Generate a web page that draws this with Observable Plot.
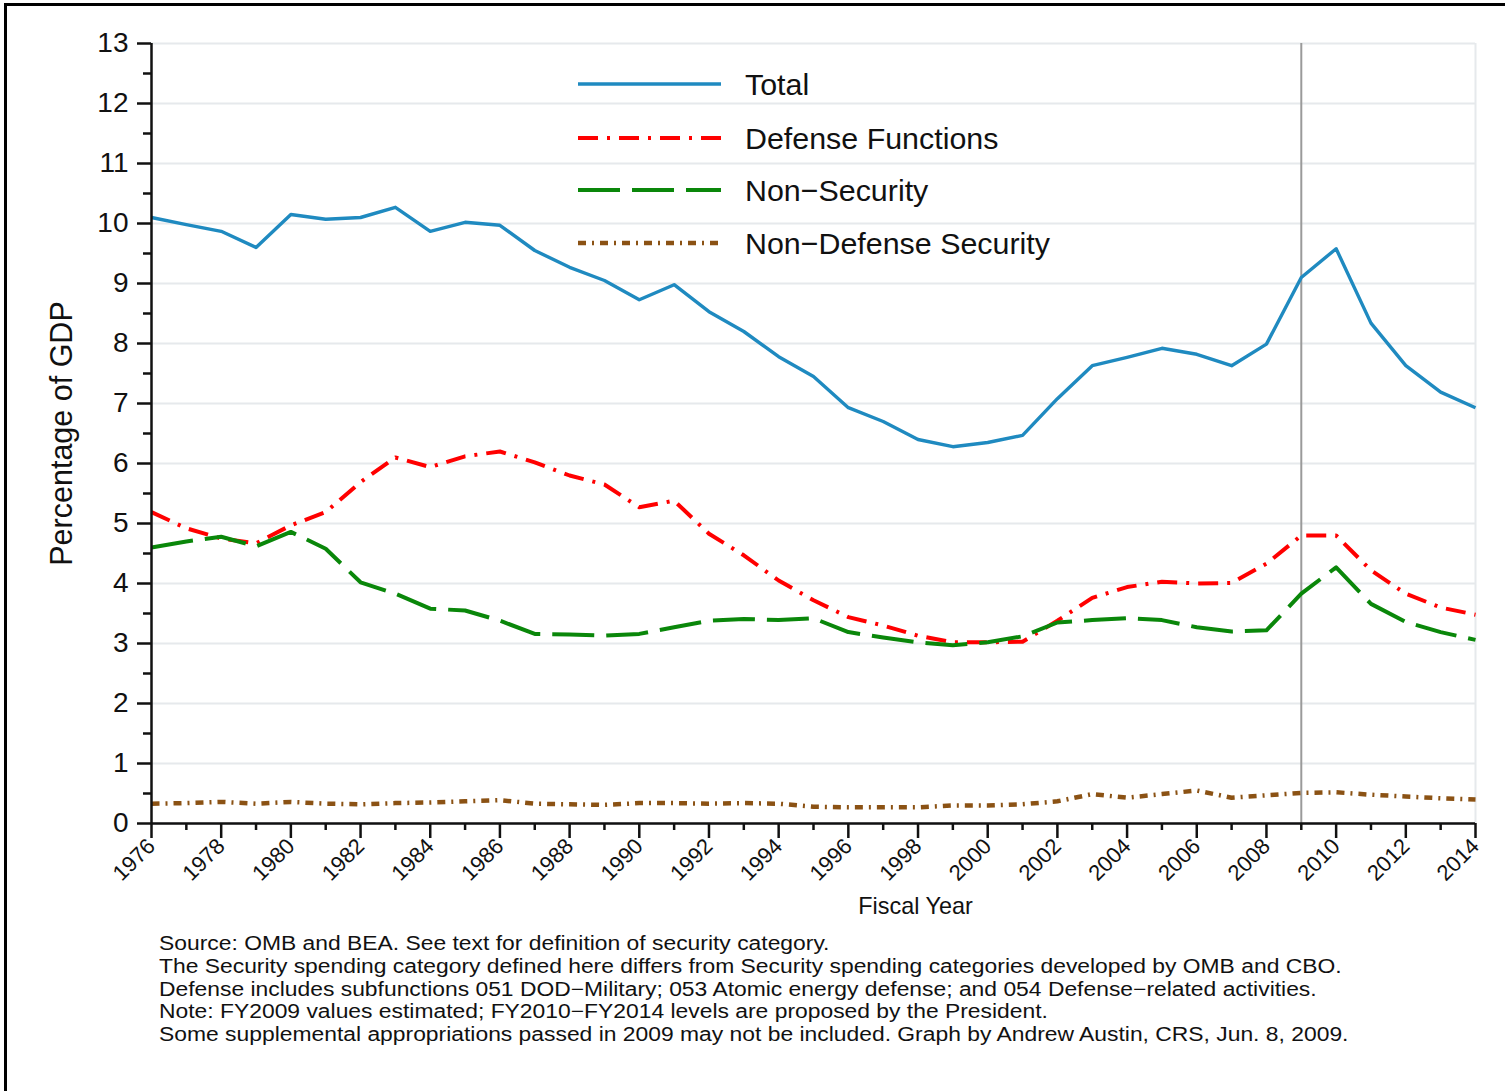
<!DOCTYPE html>
<html>
<head>
<meta charset="utf-8">
<script src="https://cdn.jsdelivr.net/npm/d3@7"></script>
<script src="https://cdn.jsdelivr.net/npm/@observablehq/plot@0.6"></script>
<style>
  html, body { margin: 0; padding: 0; background: #fff; }
  body { width: 1505px; height: 1091px; overflow: hidden; position: relative; font-family: "Liberation Sans", Arial, Helvetica, sans-serif; }
  #frame { position: absolute; left: 4px; top: 3px; width: 1600px; height: 1200px; border-left: 3px solid #000; border-top: 3px solid #000; box-sizing: border-box; pointer-events: none; }
  #chart { position: absolute; left: 0; top: 0; }
  #legend { position: absolute; left: 0; top: 0; }
  #legend .row { position: absolute; left: 578px; height: 40px; display: flex; align-items: center; }
  #legend .row span { font-size: 30.4px; color: #111; margin-left: 24px; white-space: nowrap; }
  #footer { position: absolute; left: 159px; top: 932px; font-size: 20px; line-height: 22.75px; color: #111; white-space: nowrap; transform: scaleX(1.143); transform-origin: 0 0; }
</style>
</head>
<body>
<div id="chart"></div>
<div id="legend"></div>
<div id="footer"></div>
<div id="frame"></div>
<script>
// ---- Data (percentage of GDP) ----
const years = [1976,1977,1978,1979,1980,1981,1982,1983,1984,1985,1986,1987,1988,1989,1990,1991,1992,1993,1994,1995,1996,1997,1998,1999,2000,2001,2002,2003,2004,2005,2006,2007,2008,2009,2010,2011,2012,2013,2014];
const total = [10.10,9.98,9.87,9.60,10.15,10.07,10.10,10.27,9.87,10.02,9.97,9.55,9.27,9.05,8.73,8.98,8.53,8.20,7.78,7.45,6.93,6.70,6.40,6.28,6.35,6.47,7.08,7.63,7.77,7.92,7.82,7.63,7.99,9.10,9.58,8.34,7.63,7.19,6.93];
const defenseFunctions = [5.19,4.92,4.75,4.67,4.97,5.19,5.69,6.10,5.94,6.12,6.20,6.02,5.80,5.65,5.27,5.38,4.83,4.47,4.05,3.72,3.44,3.30,3.13,3.02,3.02,3.03,3.38,3.76,3.94,4.03,4.00,4.01,4.33,4.80,4.80,4.22,3.83,3.60,3.48];
const nonSecurity = [4.60,4.70,4.78,4.62,4.86,4.58,4.02,3.83,3.58,3.55,3.38,3.16,3.15,3.13,3.16,3.27,3.38,3.41,3.39,3.42,3.19,3.10,3.02,2.97,3.02,3.12,3.35,3.39,3.42,3.39,3.27,3.20,3.22,3.83,4.27,3.66,3.36,3.19,3.06];
const nonDefenseSecurity = [0.33,0.34,0.36,0.33,0.36,0.33,0.32,0.34,0.35,0.37,0.39,0.33,0.32,0.31,0.34,0.34,0.33,0.34,0.33,0.28,0.27,0.27,0.27,0.30,0.30,0.32,0.37,0.49,0.43,0.49,0.55,0.43,0.47,0.51,0.52,0.48,0.45,0.42,0.40];

const seriesNames = ["Total", "Defense Functions", "Non\u2212Security", "Non\u2212Defense Security"];
const seriesValues = [total, defenseFunctions, nonSecurity, nonDefenseSecurity];
const seriesColors = ["#1f8ac0", "#ff0000", "#0a870a", "#8b5214"];
const seriesDash = [null, "20,9,3,9", "42,12", "8,6,2,6"];
const seriesWidth = [3.4, 4, 4, 4.5];

const yMajorTicks = [0,1,2,3,4,5,6,7,8,9,10,11,12,13];
const yMinorTicks = [0.5,1.5,2.5,3.5,4.5,5.5,6.5,7.5,8.5,9.5,10.5,11.5,12.5];
const xLabelTicks = [1976,1978,1980,1982,1984,1986,1988,1990,1992,1994,1996,1998,2000,2002,2004,2006,2008,2010,2012,2014];
const xMinorTicks = [1977,1979,1981,1983,1985,1987,1989,1991,1993,1995,1997,1999,2001,2003,2005,2007,2009,2011,2013];
const estimateYear = [2009];

const footerLines = [
  "Source: OMB and BEA. See text for definition of security category.",
  "The Security spending category defined here differs from Security spending categories developed by OMB and CBO.",
  "Defense includes subfunctions 051 DOD\u2212Military; 053 Atomic energy defense; and 054 Defense\u2212related activities.",
  "Note: FY2009 values estimated; FY2010\u2212FY2014 levels are proposed by the President.",
  "Some supplemental appropriations passed in 2009 may not be included. Graph by Andrew Austin, CRS, Jun. 8, 2009."
];

// long table built from the arrays
const rows = [];
seriesNames.forEach((name, si) => {
  years.forEach((yr, i) => rows.push({series: name, year: yr, value: seriesValues[si][i]}));
});

const lineMarks = seriesNames.map((name, si) =>
  Plot.line(rows.filter(d => d.series === name), {
    x: "year", y: "value",
    stroke: seriesColors[si],
    strokeWidth: seriesWidth[si],
    strokeDasharray: seriesDash[si] || undefined,
    strokeLinejoin: "round",
    strokeLinecap: "butt"
  })
);

const plot = Plot.plot({
  width: 1505,
  height: 928,
  marginLeft: 151,
  marginRight: 30,
  marginTop: 43,
  marginBottom: 105,
  style: {fontFamily: "'Liberation Sans', Arial, Helvetica, sans-serif", color: "#111", background: "transparent"},
  x: {domain: [1976, 2014]},
  y: {domain: [0, 13]},
  marks: [
    Plot.gridY(yMajorTicks, {stroke: "#e6e9ec", strokeOpacity: 1, strokeWidth: 2}),
    Plot.ruleX([2014], {stroke: "#e6e9ec", strokeWidth: 2}),
    Plot.ruleX(estimateYear, {stroke: "#9a9a9a", strokeWidth: 2}),
    ...lineMarks,
    Plot.ruleY([0], {stroke: "#111", strokeWidth: 2.5}),
    Plot.ruleX([1976], {stroke: "#111", strokeWidth: 2.5}),
    Plot.axisY(yMajorTicks, {tickSize: 14, tickPadding: 9, fontSize: 28, tickFormat: d => String(d), label: null, strokeWidth: 2.5, stroke: "#111"}),
    Plot.axisY(yMinorTicks, {tickSize: 8, tickFormat: () => "", label: null, strokeWidth: 2.5, stroke: "#111"}),
    Plot.axisX(xLabelTicks, {tickSize: 15, tickPadding: 4, tickRotate: -45, fontSize: 22, tickFormat: d => String(d), label: null, strokeWidth: 2.5, stroke: "#111"}),
    Plot.axisX(xMinorTicks, {tickSize: 7, tickFormat: () => "", label: null, strokeWidth: 2.5, stroke: "#111"}),
    Plot.text(["Fiscal Year"], {frameAnchor: "bottom", dx: 102, dy: 90, fontSize: 23.4, fill: "#111"}),
    Plot.text(["Percentage of GDP"], {frameAnchor: "left", textAnchor: "middle", dx: -89, rotate: -90, fontSize: 30.5, fill: "#111"})
  ]
});
document.getElementById("chart").appendChild(plot);

// legend overlay
const legendY = [84, 138, 190, 243];
const legend = document.getElementById("legend");
seriesNames.forEach((name, si) => {
  const row = document.createElement("div");
  row.className = "row";
  row.style.top = (legendY[si] - 20) + "px";
  const svgNS = "http://www.w3.org/2000/svg";
  const svg = document.createElementNS(svgNS, "svg");
  svg.setAttribute("width", 143);
  svg.setAttribute("height", 40);
  const ln = document.createElementNS(svgNS, "line");
  ln.setAttribute("x1", 0); ln.setAttribute("x2", 143);
  ln.setAttribute("y1", 20); ln.setAttribute("y2", 20);
  ln.setAttribute("stroke", seriesColors[si]);
  ln.setAttribute("stroke-width", seriesWidth[si]);
  if (seriesDash[si]) ln.setAttribute("stroke-dasharray", seriesDash[si]);
  svg.appendChild(ln);
  row.appendChild(svg);
  const sp = document.createElement("span");
  sp.textContent = name;
  row.appendChild(sp);
  legend.appendChild(row);
});

// footer
const footer = document.getElementById("footer");
footerLines.forEach(t => {
  const d = document.createElement("div");
  d.textContent = t;
  footer.appendChild(d);
});
</script>
</body>
</html>
